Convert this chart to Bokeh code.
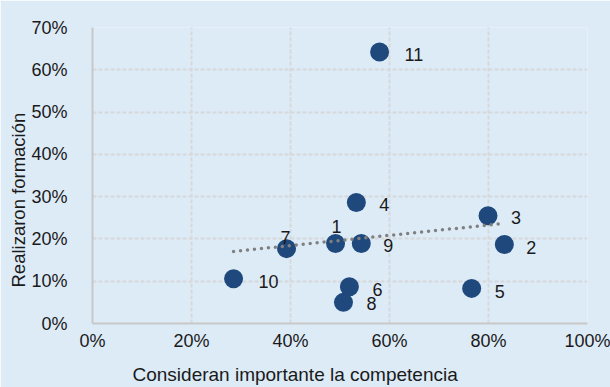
import numpy as np
from bokeh.plotting import figure
from bokeh.models import ColumnDataSource, Range1d, FixedTicker, NumeralTickFormatter, Title
from bokeh.core.properties import value
from bokeh.embed import file_html
from bokeh.resources import INLINE

# ---- data ----
labels = ["1", "2", "3", "4", "5", "6", "7", "8", "9", "10", "11"]
consideran = [0.491, 0.832, 0.799, 0.533, 0.766, 0.519, 0.392, 0.507, 0.543, 0.285, 0.580]
realizaron = [0.189, 0.187, 0.255, 0.286, 0.083, 0.087, 0.177, 0.050, 0.189, 0.106, 0.642]
x_ticks = [0, 0.2, 0.4, 0.6, 0.8, 1.0]
y_ticks = [0, 0.1, 0.2, 0.3, 0.4, 0.5, 0.6, 0.7]
x_title = "Consideran importante la competencia"
y_title = "Realizaron formación"

# ---- label styling (pixel offsets) ----
lab_dx = [1, 22, 23, 23, 23, 23, -1, 23, 22, 25, 25]
lab_dy = [-17, 3, 2, 2, 3, 3, -11, 1, 2, 3, 2]
lab_align = ["center", "left", "left", "left", "left", "left", "center",
             "left", "left", "left", "left"]

BG = "#DDEBF7"
FONT = "Liberation Sans"
TXT = "#1a1a1a"

src = ColumnDataSource(dict(x=consideran, y=realizaron, t=labels,
                            dx=lab_dx, dy=lab_dy, al=lab_align))

p = figure(width=610, height=387, x_range=Range1d(0, 1), y_range=Range1d(0, 0.7),
           output_backend="svg", toolbar_location=None,
           min_border_left=92, min_border_right=23, min_border_top=27,
           min_border_bottom=64)
p.background_fill_color = BG
p.border_fill_color = BG
p.outline_line_color = None

for g, t in ((p.xgrid, x_ticks), (p.ygrid, y_ticks)):
    g.ticker = FixedTicker(ticks=t)
    g.grid_line_color = "#d6d8da"
    g.grid_line_width = 2
    g.grid_line_dash = "4 2"

p.xaxis.ticker = FixedTicker(ticks=x_ticks)
p.yaxis.ticker = FixedTicker(ticks=y_ticks)
for ax in (p.xaxis, p.yaxis):
    ax.formatter = NumeralTickFormatter(format="0%")
    ax.major_tick_line_color = None
    ax.minor_tick_line_color = None
    ax.axis_line_color = "#c8c8c8"
    ax.axis_line_width = 2
    ax.major_label_text_font = FONT
    ax.major_label_text_font_size = "18px"
    ax.major_label_text_color = TXT

p.xaxis.major_label_standoff = 1
p.yaxis.major_label_standoff = 19

# x title as axis label; trailing no-break spaces shift it left like the original
p.xaxis.axis_label = x_title + "\u00a0" * 17
p.xaxis.axis_label_standoff = 10
p.xaxis.axis_label_text_font = FONT
p.xaxis.axis_label_text_font_size = "19px"
p.xaxis.axis_label_text_font_style = "normal"
p.xaxis.axis_label_text_color = TXT

p.add_layout(Title(text=y_title, align="left", offset=36, standoff=0,
                   text_font=FONT, text_font_size="18.5px", text_font_style="normal",
                   text_color=TXT), "left")

p.scatter("x", "y", source=src, size=19, fill_color="#1F497D", line_color=None)

# linear trendline
xa = np.array(consideran)
ya = np.array(realizaron)
k, b = np.polyfit(xa, ya, 1)
tx = [xa.min(), xa.max()]
p.line(tx, [k * v + b for v in tx], line_color="#808080", line_width=3.5,
       line_dash="0 7", line_cap="round")

p.text("x", "y", text="t", source=src, x_offset="dx", y_offset="dy",
       text_align="al", text_baseline="middle", text_font=value(FONT),
       text_font_size="18px", text_color=TXT)

open("out.html", "w").write(file_html(p, INLINE))
